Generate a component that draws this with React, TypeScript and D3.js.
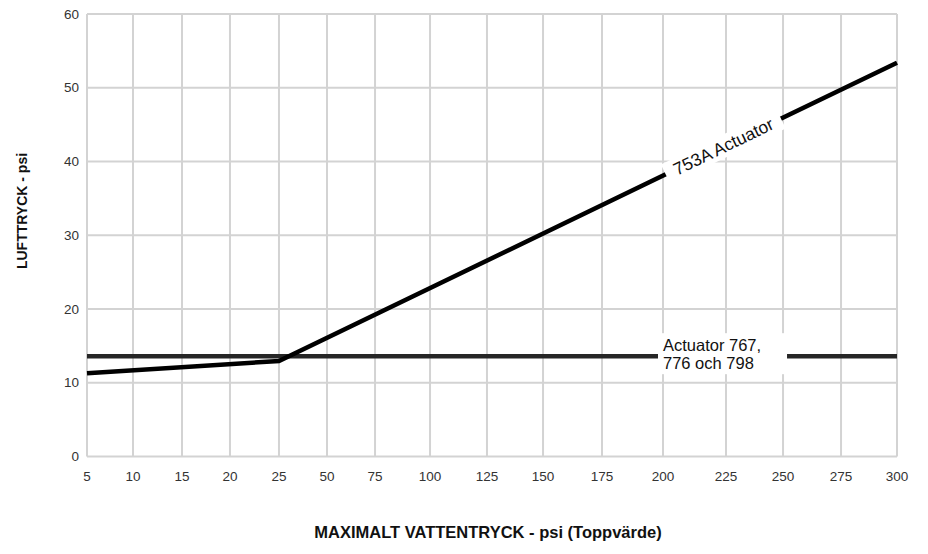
import React from "react";
import * as d3 from "d3";

// ---- data ----
const xTickValues = [5, 10, 15, 20, 25, 50, 75, 100, 125, 150, 175, 200, 225, 250, 275, 300];
const xTickLabels = ["5", "10", "15", "20", "25", "50", "75", "100", "125", "150", "175", "200", "225", "250", "275", "300"];
const yTickValues = [0, 10, 20, 30, 40, 50, 60];

const actuator753AX = [5, 25, 300];
const actuator753AY = [11.3, 12.95, 53.4];
const actuator767X = [5, 300];
const actuator767Y = [13.6, 13.6];

const label753A = "753A Actuator";
const label767Lines = ["Actuator 767,", "776 och 798"];
const xTitle = "MAXIMALT VATTENTRYCK - psi (Toppvärde)";
const yTitle = "LUFTTRYCK - psi";

// ---- layout ----
const W = 928;
const H = 554;
const plot = { left: 87, right: 897, top: 14, bottom: 456.5 };
// relative position of each (unevenly spaced) x gridline across the plot width
const xTickFractions = [0, 0.0568, 0.1173, 0.1765, 0.237, 0.2963, 0.3556, 0.4235, 0.4938, 0.563, 0.6358, 0.7111, 0.7889, 0.8593, 0.9309, 1];

const FONT = "'Liberation Sans', Arial, Helvetica, sans-serif";

export default function App() {
  const pw = plot.right - plot.left;
  const x = d3
    .scaleLinear()
    .domain(xTickValues)
    .range(xTickFractions.map((f) => plot.left + f * pw));
  const y = d3.scaleLinear().domain([0, 60]).range([plot.bottom, plot.top]);

  const line = d3
    .line<[number, number]>()
    .x((d) => x(d[0]))
    .y((d) => y(d[1]));

  const pts753 = actuator753AX.map((v, i) => [v, actuator753AY[i]] as [number, number]);
  const pts767 = actuator767X.map((v, i) => [v, actuator767Y[i]] as [number, number]);

  // label along the 753A line
  const p0 = [x(actuator753AX[1]), y(actuator753AY[1])];
  const p1 = [x(actuator753AX[2]), y(actuator753AY[2])];
  const t = 0.719;
  const lc = [p0[0] + t * (p1[0] - p0[0]), p0[1] + t * (p1[1] - p0[1])];
  const angle = (Math.atan2(p1[1] - p0[1], p1[0] - p0[0]) * 180) / Math.PI;

  // label on the horizontal line
  const hx0 = x(200) - 5;
  const hx1 = x(250) + 4;
  const hy = y(actuator767Y[0]);

  return (
    <svg width={W} height={H} style={{ display: "block", position: "absolute", left: 0, top: 0 }} fontFamily={FONT}>
      <rect x={0} y={0} width={W} height={H} fill="#fff" />
      {/* grid */}
      <g stroke="#d3d3d3" strokeWidth={2} fill="none">
        {xTickValues.map((v) => (
          <line key={"gx" + v} x1={x(v)} x2={x(v)} y1={plot.top} y2={plot.bottom} />
        ))}
        {yTickValues.map((v) => (
          <line key={"gy" + v} x1={plot.left} x2={plot.right} y1={y(v)} y2={y(v)} />
        ))}
      </g>
      {/* tick labels */}
      <g fill="#333" fontSize={13.5}>
        {xTickValues.map((v, i) => (
          <text key={"tx" + v} x={x(v)} y={plot.bottom + 24} textAnchor="middle">
            {xTickLabels[i]}
          </text>
        ))}
        {yTickValues.map((v) => (
          <text key={"ty" + v} x={plot.left - 8} y={y(v)} dy="0.35em" textAnchor="end">
            {v}
          </text>
        ))}
      </g>
      {/* series */}
      <path d={line(pts767) ?? ""} fill="none" stroke="#262626" strokeWidth={4.5} />
      <path d={line(pts753) ?? ""} fill="none" stroke="#000" strokeWidth={4.5} strokeLinejoin="miter" />

      {/* 753A label */}
      <g transform={`translate(${lc[0]},${lc[1]}) rotate(${angle})`}>
        <rect x={-64} y={-11} width={128} height={22} fill="#fff" />
        <text x={0} y={0} dy="0.35em" textAnchor="middle" fontSize={17.5} fill="#111">
          {label753A}
        </text>
      </g>

      {/* 767 label */}
      <rect x={hx0} y={hy - 23} width={hx1 - hx0} height={41} fill="#fff" />
      <text x={hx0 + 5} y={hy - 5} fontSize={16.5} fill="#111">
        {label767Lines[0]}
      </text>
      <text x={hx0 + 5} y={hy + 13} fontSize={16.5} fill="#111">
        {label767Lines[1]}
      </text>

      {/* axis titles */}
      <text x={(plot.left + plot.right) / 2 - 4} y={538} textAnchor="middle" fontWeight="bold" fontSize={16.5} fill="#111">
        {xTitle}
      </text>
      <text transform={`translate(27,211) rotate(-90)`} textAnchor="middle" fontWeight="bold" fontSize={14} fill="#111">
        {yTitle}
      </text>
    </svg>
  );
}
